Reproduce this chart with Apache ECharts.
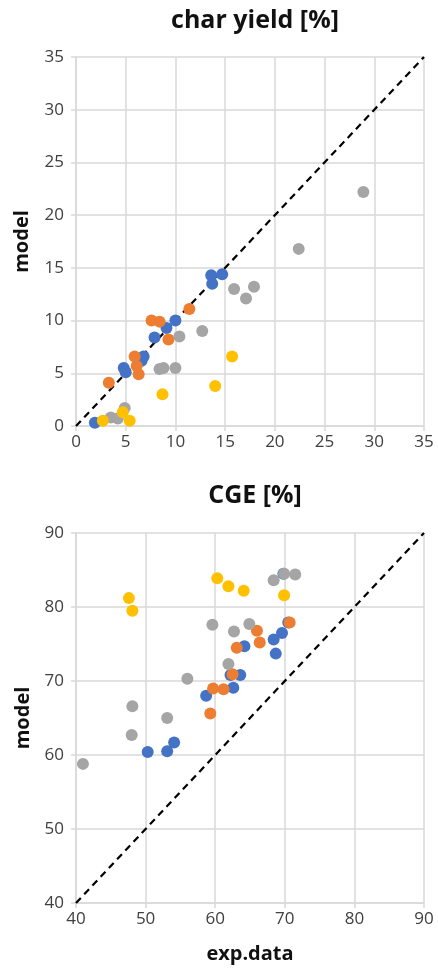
<!DOCTYPE html>
<html>
<head>
<meta charset="utf-8">
<script src="https://cdn.jsdelivr.net/npm/echarts@6/dist/echarts.min.js"></script>
<style>
  html, body { margin: 0; padding: 0; background: #fff; }
  #chart { width: 438px; height: 972px; }
</style>
</head>
<body>
<div id="chart"></div>
<script>
// ---- char yield [%] : experimental vs. model ----
const charBlueX   = [1.9, 4.8, 5.0, 6.6, 6.8, 7.9, 9.1, 10.0, 13.6, 13.7, 14.7];
const charBlueY   = [0.3, 5.5, 5.1, 6.2, 6.6, 8.4, 9.3, 10.0, 14.3, 13.5, 14.4];
const charOrangeX = [3.3, 6.3, 6.1, 5.9, 9.3, 7.6, 8.4, 11.4];
const charOrangeY = [4.1, 4.9, 5.7, 6.6, 8.2, 10.0, 9.9, 11.1];
const charGrayX   = [3.5, 4.2, 4.9, 8.4, 8.8, 10.0, 10.4, 12.7, 15.9, 17.1, 17.9, 22.4, 28.9];
const charGrayY   = [0.8, 0.7, 1.7, 5.4, 5.5, 5.5, 8.5, 9.0, 13.0, 12.1, 13.2, 16.8, 22.2];
const charYellowX = [2.7, 4.7, 5.4, 8.7, 14.0, 15.7];
const charYellowY = [0.5, 1.3, 0.5, 3.0, 3.8, 6.6];

// ---- CGE [%] : experimental vs. model ----
const cgeBlueX   = [50.3, 53.1, 54.1, 58.7, 62.6, 62.2, 63.6, 64.2, 68.7, 68.4, 69.6, 70.5, 69.8];
const cgeBlueY   = [60.4, 60.5, 61.7, 68.0, 69.1, 70.8, 70.8, 74.7, 73.7, 75.6, 76.5, 77.9, 84.5];
const cgeOrangeX = [59.3, 59.7, 61.2, 62.5, 63.1, 66.4, 66.0, 70.7];
const cgeOrangeY = [65.6, 69.0, 68.9, 70.9, 74.5, 75.2, 76.8, 77.9];
const cgeGrayX   = [41.0, 48.0, 53.1, 48.1, 56.0, 61.9, 62.7, 59.6, 64.9, 68.4, 69.9, 71.5];
const cgeGrayY   = [58.8, 62.7, 65.0, 66.6, 70.3, 72.3, 76.7, 77.6, 77.7, 83.6, 84.5, 84.4];
const cgeYellowX = [47.6, 48.1, 60.3, 61.9, 64.1, 69.9];
const cgeYellowY = [81.2, 79.5, 83.9, 82.8, 82.2, 81.6];

// axis ranges [min, max, interval]; the 1:1 parity line spans the same range
const charRange = [0, 35, 5];
const cgeRange  = [40, 90, 10];

const titles = ['char yield [%]', 'CGE [%]'];
const axisNameY = 'model';
const axisNameX = 'exp.data';

const colors = { blue: '#4472C4', orange: '#ED7D31', gray: '#A5A5A5', yellow: '#FFC000' };
const FONT = 'Open Sans';
const nameStyle = { fontSize: 20, fontWeight: 'bold', fontFamily: FONT, color: '#111' };
const titleStyle = { fontSize: 25, fontWeight: 'bold', fontFamily: FONT, color: '#111' };

const zip = (xs, ys) => xs.map((x, i) => [x, ys[i]]);

function valueAxis(range, gridIndex, extra) {
  return Object.assign({
    type: 'value',
    gridIndex: gridIndex,
    min: range[0], max: range[1], interval: range[2],
    axisLine: { show: true, onZero: false, lineStyle: { color: '#d9d9d9', width: 1.5 } },
    axisTick: { show: true, inside: false, length: 5, lineStyle: { color: '#d9d9d9', width: 1.5 } },
    splitLine: { show: true, lineStyle: { color: '#d9d9d9', width: 1.5 } },
    axisLabel: { color: '#404040', fontSize: 17, fontFamily: FONT, margin: 8 }
  }, extra || {});
}

function scatter(name, data, color, idx) {
  return {
    name: name, type: 'scatter', xAxisIndex: idx, yAxisIndex: idx,
    data: data, symbol: 'circle', symbolSize: 12,
    itemStyle: { color: color, opacity: 1 }, z: 3, silent: true
  };
}

function parity(range, idx) {
  return {
    type: 'line', xAxisIndex: idx, yAxisIndex: idx,
    data: [[range[0], range[0]], [range[1], range[1]]],
    symbol: 'none', silent: true, z: 2,
    lineStyle: { color: '#000', width: 2.2, type: [7, 5] }
  };
}

const chart = echarts.init(document.getElementById('chart'), null, { renderer: 'canvas' });

chart.setOption({
  backgroundColor: '#fff',
  animation: false,
  title: [
    { text: titles[0], left: 250, top: 3, textAlign: 'center', textStyle: titleStyle },
    { text: titles[1], left: 250, top: 478, textAlign: 'center', textStyle: titleStyle }
  ],
  grid: [
    { left: 76, top: 57, width: 348, height: 369 },
    { left: 76, top: 533, width: 348, height: 370 }
  ],
  xAxis: [
    valueAxis(charRange, 0),
    valueAxis(cgeRange, 1, {
      name: axisNameX, nameLocation: 'middle', nameGap: 41, nameTextStyle: nameStyle
    })
  ],
  yAxis: [
    valueAxis(charRange, 0, {
      name: axisNameY, nameLocation: 'middle', nameGap: 44, nameRotate: 90, nameTextStyle: nameStyle,
      axisLabel: { color: '#404040', fontSize: 17, fontFamily: FONT, margin: 12 }
    }),
    valueAxis(cgeRange, 1, {
      name: axisNameY, nameLocation: 'middle', nameGap: 43, nameRotate: 90, nameTextStyle: nameStyle,
      axisLabel: { color: '#404040', fontSize: 17, fontFamily: FONT, margin: 12 }
    })
  ],
  series: [
    parity(charRange, 0),
    scatter('blue', zip(charBlueX, charBlueY), colors.blue, 0),
    scatter('orange', zip(charOrangeX, charOrangeY), colors.orange, 0),
    scatter('gray', zip(charGrayX, charGrayY), colors.gray, 0),
    scatter('yellow', zip(charYellowX, charYellowY), colors.yellow, 0),
    parity(cgeRange, 1),
    scatter('blue', zip(cgeBlueX, cgeBlueY), colors.blue, 1),
    scatter('orange', zip(cgeOrangeX, cgeOrangeY), colors.orange, 1),
    scatter('gray', zip(cgeGrayX, cgeGrayY), colors.gray, 1),
    scatter('yellow', zip(cgeYellowX, cgeYellowY), colors.yellow, 1)
  ]
});
</script>
</body>
</html>
